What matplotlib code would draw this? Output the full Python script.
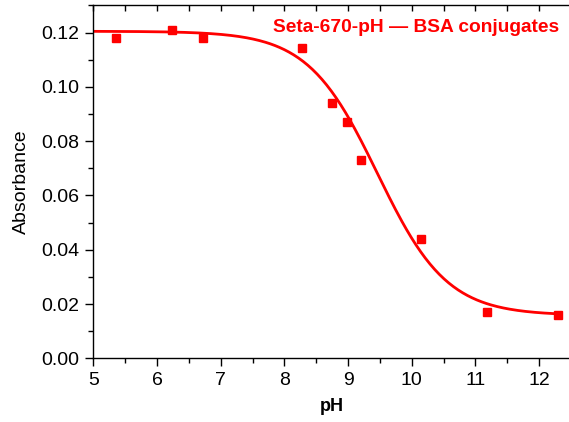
import numpy as np
import matplotlib
matplotlib.use("Agg")
import matplotlib.pyplot as plt
from matplotlib.ticker import MultipleLocator

plt.rcParams['font.family'] = ['Liberation Sans', 'DejaVu Sans']

# measured points
ph = [5.36, 6.24, 6.72, 8.27, 8.75, 8.99, 9.20, 10.14, 11.18, 12.29]
absorb = [0.1179, 0.1210, 0.1182, 0.1143, 0.0942, 0.0870, 0.0731, 0.0441, 0.0170, 0.0161]

# Boltzmann fit parameters
A1, A2, x0, dx = 0.1205, 0.0158, 9.46, 0.547
fit_range = (5.0, 12.35)

fig = plt.figure(figsize=(5.69, 4.22), dpi=100)
ax = fig.add_axes([0.164, 0.151, 0.8395, 0.836])

xf = np.linspace(fit_range[0], fit_range[1], 300)
yf = A2 + (A1 - A2) / (1 + np.exp((xf - x0) / dx))
ax.plot(xf, yf, color='red', lw=2.0, zorder=2)
ax.plot(ph, absorb, 's', color='red', ms=5.8, zorder=3)

ax.set_xlim(5, 12.5)
ax.set_ylim(0, 0.13)
ax.xaxis.set_major_locator(MultipleLocator(1))
ax.xaxis.set_minor_locator(MultipleLocator(0.5))
ax.yaxis.set_major_locator(MultipleLocator(0.02))
ax.yaxis.set_minor_locator(MultipleLocator(0.01))
ax.yaxis.set_major_formatter(plt.FuncFormatter(lambda v, p: f"{v:.2f}"))

ax.tick_params(which='major', direction='out', length=6, width=1, labelsize=14, pad=4)
ax.tick_params(which='minor', direction='out', length=3.5, width=1)
ax.tick_params(which='both', top=True, right=True)
# top/right ticks point inward
for t in ax.xaxis.get_major_ticks() + ax.xaxis.get_minor_ticks():
    t.tick2line.set_marker(3)
    t.tick2line.set_markersize(4)
for s in ax.spines.values():
    s.set_linewidth(1)

ax.set_xlabel('pH', fontsize=13, fontweight='bold', labelpad=6)
ax.set_ylabel('Absorbance', fontsize=14, labelpad=8)

ax.text(0.982, 0.934, 'Seta-670-pH \u2014 BSA conjugates', transform=fig.transFigure,
        ha='right', va='center', color='red', fontsize=13.8, fontweight='bold')

fig.savefig('out.png', dpi=100)
